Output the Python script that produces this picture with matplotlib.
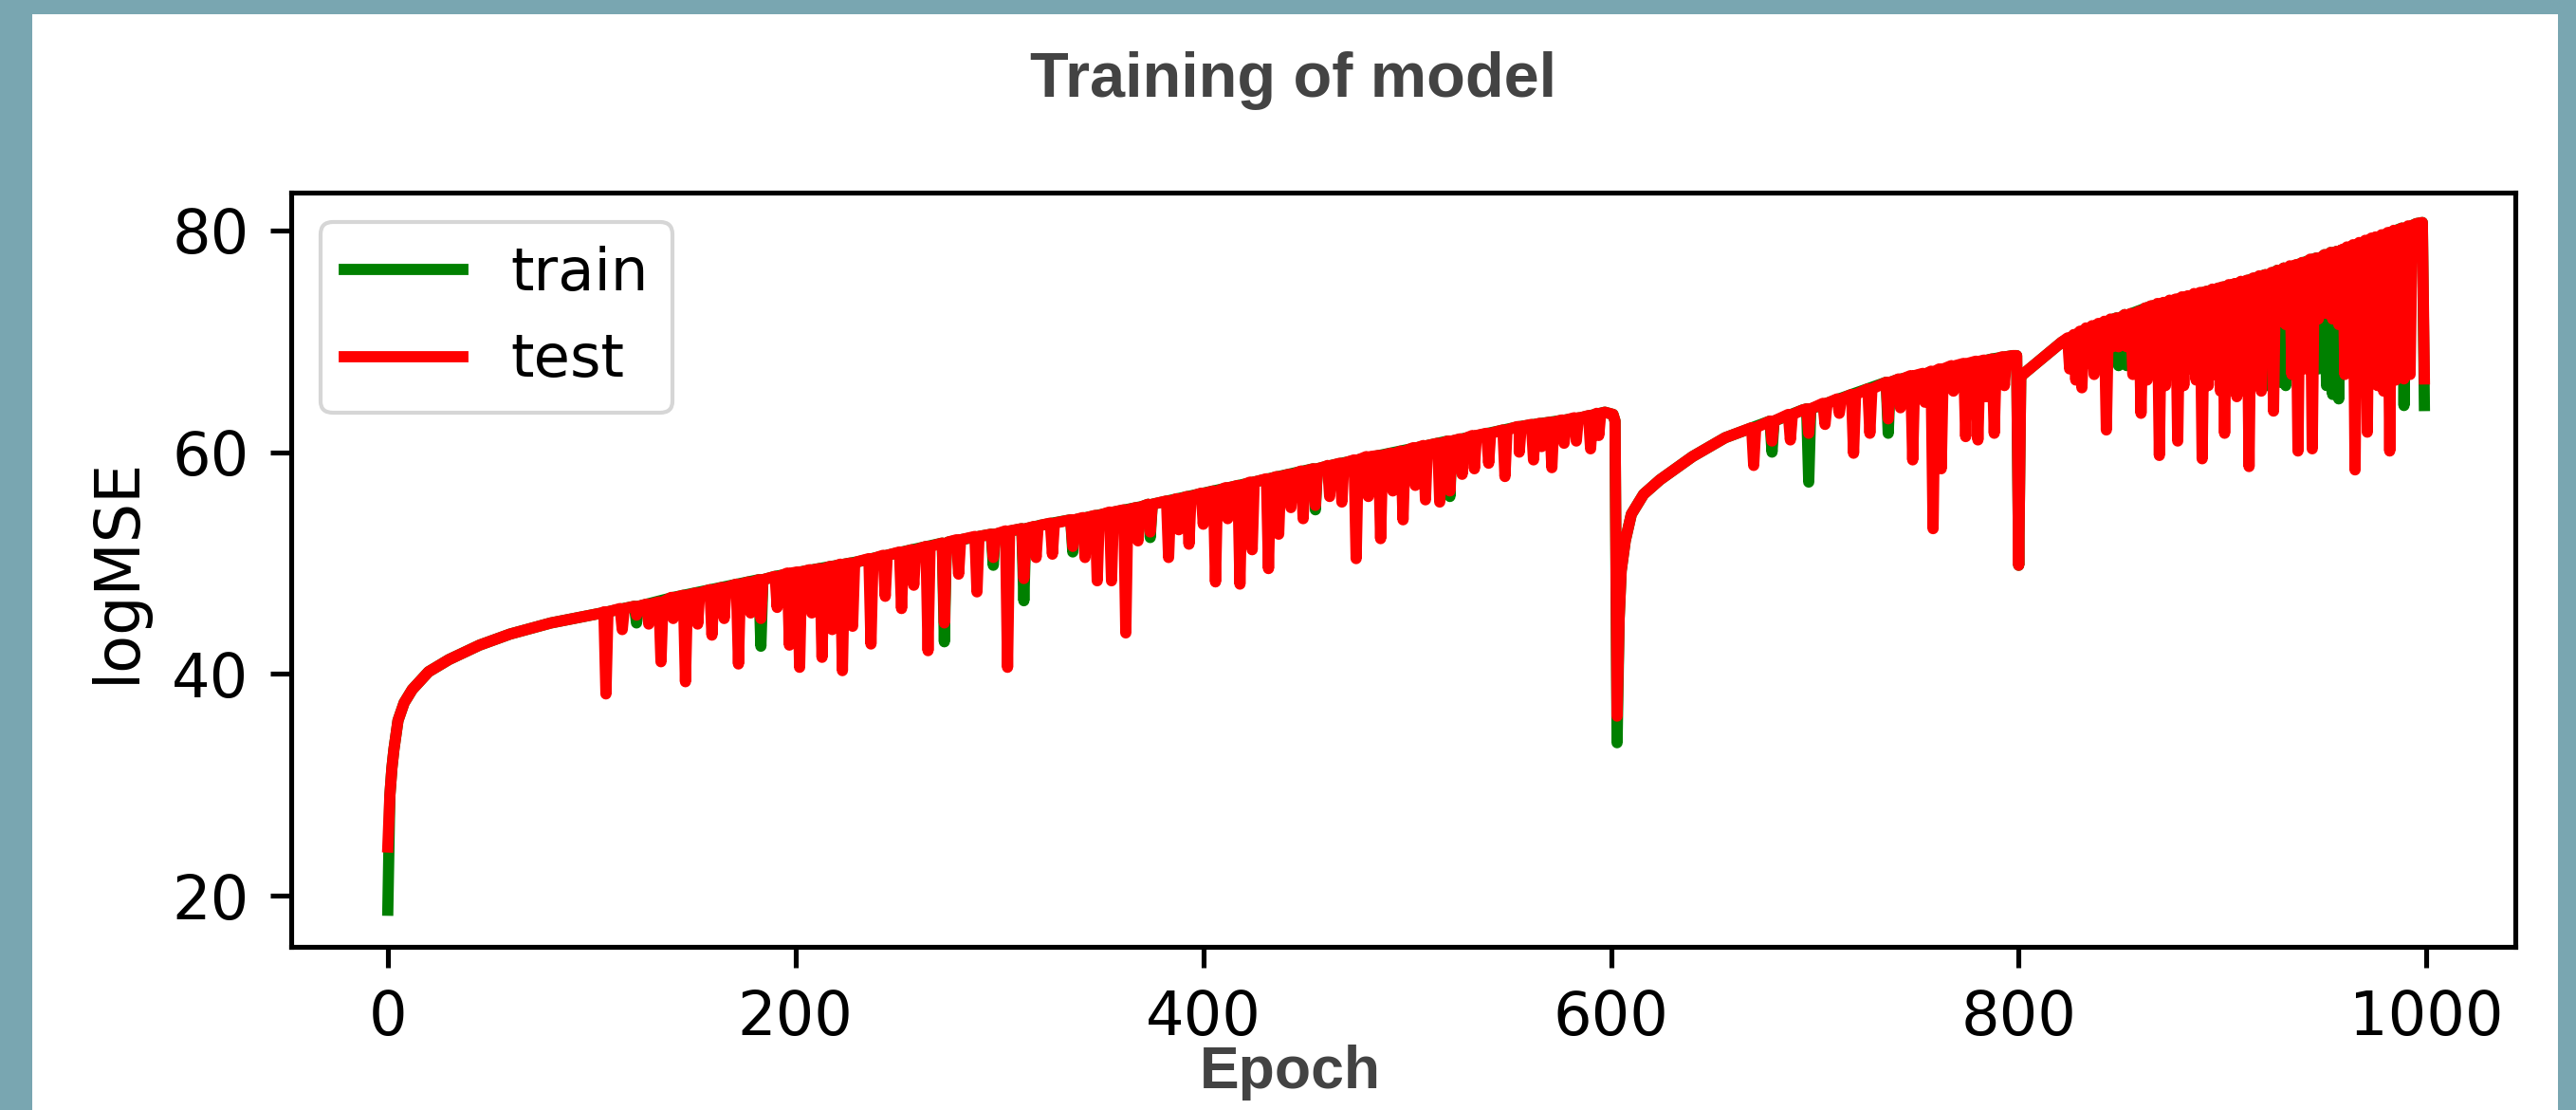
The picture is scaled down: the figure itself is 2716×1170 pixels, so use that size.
import numpy as np
import matplotlib.pyplot as plt
from matplotlib.patches import Rectangle

# upper envelope of the two curves (epoch, logMSE) incl. the big drops
env_epoch = [0, 1, 2, 3, 5, 8, 12, 20, 30, 45,
             60, 80, 105, 140, 190, 230, 275, 320, 370, 415,
             460, 510, 555, 585, 597, 601, 602, 603, 604, 605,
             607, 610, 616, 624, 640, 656, 694, 740, 787, 797,
             799, 800, 801, 802, 821, 833, 864, 911, 958, 995,
             998, 999]
test_env = [24.4, 29.0, 31.5, 33.2, 35.8, 37.4, 38.6, 40.2, 41.3, 42.6,
            43.6, 44.6, 45.5, 46.9, 48.8, 50.1, 51.9, 53.4, 55.1, 56.9,
            58.7, 60.6, 62.3, 63.1, 63.6, 63.4, 62.8, 36.2, 45.0, 49.3,
            52.0, 54.4, 56.2, 57.5, 59.6, 61.3, 63.8, 66.5, 68.4, 68.7,
            68.7, 49.8, 66.9, 67.0, 69.9, 71.1, 73.1, 75.4, 78.2, 80.6,
            80.7, 66.6]
train_env = [18.7, 29.0, 31.5, 33.2, 35.8, 37.4, 38.6, 40.2, 41.3, 42.6,
             43.6, 44.6, 45.5, 46.9, 48.8, 50.1, 51.9, 53.4, 55.1, 56.9,
             58.7, 60.6, 62.3, 63.1, 63.6, 63.4, 62.8, 33.8, 45.0, 49.3,
             52.0, 54.4, 56.2, 57.5, 59.6, 61.3, 63.8, 66.5, 68.4, 68.7,
             68.7, 49.8, 66.9, 67.0, 69.9, 71.1, 73.1, 75.4, 78.2, 80.6,
             80.7, 64.2]

# downward spikes of the test curve: epoch, value before/after, bottom value
test_spike_epoch = [107, 115, 122, 128, 134, 140, 146, 152, 159, 165,
                    172, 178, 183, 191, 197, 202, 208, 213, 218, 223,
                    228, 237, 244, 252, 258, 265, 273, 280, 289, 297,
                    304, 312, 318, 326, 336, 342, 348, 355, 362, 368,
                    374, 383, 388, 393, 400, 406, 412, 418, 424, 432,
                    437, 443, 449, 455, 462, 468, 475, 481, 487, 493,
                    498, 504, 509, 516, 521, 527, 533, 540, 548, 555,
                    562, 566, 571, 577, 583, 590, 594,
                    670, 679, 688, 697, 705, 712, 719, 727, 736, 742,
                    748, 754, 758, 762, 768, 774, 780, 784, 788, 793,
                    825, 828, 831, 834, 837, 840, 843, 846, 849, 853,
                    856, 860, 863, 866, 869, 872, 875, 878, 881, 884,
                    887, 890, 893, 896, 899, 901, 904, 907, 910, 913,
                    916, 919, 922, 925, 928, 931, 934, 937, 940, 944,
                    947, 951, 954, 957, 960, 962, 965, 968, 971, 974,
                    976, 979, 982, 985, 989, 992]
test_spike_top = [45.6, 45.9, 46.1, 46.3, 46.5, 46.9, 47.1, 47.3, 47.6, 47.8,
                  48.1, 48.3, 48.5, 48.8, 49.1, 49.2, 49.4, 49.5, 49.7, 49.9,
                  50.0, 50.4, 50.7, 51.0, 51.2, 51.5, 51.8, 52.1, 52.4, 52.6,
                  52.9, 53.1, 53.3, 53.6, 53.9, 54.1, 54.3, 54.6, 54.8, 55.0,
                  55.3, 55.6, 55.8, 56.0, 56.3, 56.5, 56.8, 57.0, 57.3, 57.6,
                  57.8, 58.0, 58.3, 58.5, 58.8, 59.0, 59.3, 59.6, 59.7, 59.9,
                  60.1, 60.4, 60.6, 60.8, 61.0, 61.2, 61.5, 61.7, 62.0, 62.3,
                  62.5, 62.6, 62.7, 62.9, 63.1, 63.3, 63.5,
                  62.2, 62.8, 63.4, 63.9, 64.4, 64.8, 65.2, 65.7, 66.3, 66.6,
                  66.9, 67.1, 67.3, 67.5, 67.8, 68.0, 68.2, 68.3, 68.4, 68.6,
                  70.3, 70.6, 70.9, 71.2, 71.4, 71.6, 71.8, 72.0, 72.1, 72.4,
                  72.5, 72.7, 73.0, 73.2, 73.4, 73.5, 73.7, 73.8, 74.0, 74.1,
                  74.3, 74.4, 74.5, 74.7, 74.8, 74.9, 75.1, 75.2, 75.4, 75.5,
                  75.7, 75.9, 76.0, 76.2, 76.4, 76.6, 76.8, 76.9, 77.1, 77.4,
                  77.5, 77.8, 78.0, 78.1, 78.3, 78.5, 78.7, 78.9, 79.1, 79.3,
                  79.4, 79.6, 79.8, 80.0, 80.2, 80.4]
test_spike_low = [38.2, 44.0, 45.3, 44.5, 41.1, 45.0, 39.3, 44.5, 43.5, 45.0,
                  40.9, 45.5, 45.0, 46.0, 42.6, 40.6, 45.5, 41.5, 44.0, 40.3,
                  44.3, 42.7, 47.0, 45.9, 48.0, 42.1, 44.6, 49.0, 47.4, 50.5,
                  40.6, 48.6, 50.5, 50.8, 51.5, 50.5, 48.4, 48.4, 43.7, 52.0,
                  52.8, 50.5, 53.0, 51.7, 53.5, 48.3, 54.0, 48.1, 51.2, 49.5,
                  52.6, 55.0, 54.0, 55.2, 56.0, 55.5, 50.4, 56.0, 52.2, 56.5,
                  53.9, 57.0, 55.7, 55.5, 56.5, 58.0, 58.5, 59.0, 57.8, 60.0,
                  59.3, 60.5, 58.6, 60.8, 61.0, 60.3, 61.5,
                  58.8, 61.0, 61.1, 61.7, 62.5, 63.5, 59.9, 61.7, 63.0, 64.0,
                  59.3, 64.5, 53.1, 58.5, 65.5, 61.4, 61.1, 65.0, 61.7, 66.0,
                  67.5, 66.5, 65.8, 68.0, 67.0, 68.5, 62.0, 69.5, 69.5, 69.5,
                  67.0, 63.5, 66.5, 67.5, 59.7, 66.0, 67.0, 61.0, 66.0, 67.5,
                  66.5, 59.4, 66.0, 67.0, 65.5, 61.7, 66.5, 65.0, 67.0, 58.7,
                  66.5, 65.5, 71.5, 63.7, 71.8, 71.5, 67.0, 60.1, 67.5, 60.3,
                  72.0, 72.5, 72.0, 71.5, 67.0, 72.0, 58.4, 66.0, 61.8, 67.0,
                  66.0, 65.5, 60.1, 66.5, 66.6, 67.0]

# spikes of the train curve that show below the red one
train_spike_epoch = [122, 183, 273, 297, 312, 336, 374, 455, 521, 679,
                     697, 736, 849, 853, 922, 928, 931, 947, 951, 954,
                     957, 989]
train_spike_top = [46.1, 48.5, 51.8, 52.6, 53.1, 53.9, 55.3, 58.5, 61.0, 62.8,
                   63.9, 66.3, 72.1, 72.4, 76.0, 76.4, 76.6, 77.5, 77.8, 78.0,
                   78.1, 80.2]
train_spike_low = [44.6, 42.5, 42.9, 49.8, 46.6, 51.0, 52.3, 54.8, 56.0, 60.0,
                   57.3, 61.7, 67.8, 67.8, 66.0, 66.3, 66.0, 67.5, 66.0, 65.2,
                   64.8, 64.2]


def build_curve(env_y, spk_e, spk_top, spk_low):
    xs = list(env_epoch)
    ys = list(env_y)
    for e, t, l in zip(spk_e, spk_top, spk_low):
        xs += [e - 1, e, e + 1]
        ys += [t, l, t]
    order = np.argsort(xs, kind='stable')
    return np.array(xs)[order], np.array(ys)[order]


train_x, train_y = build_curve(train_env, train_spike_epoch, train_spike_top, train_spike_low)
test_x, test_y = build_curve(test_env, test_spike_epoch, test_spike_top, test_spike_low)

W, H = 2716, 1170
fig = plt.figure(figsize=(W / 100, H / 100), dpi=100)
fig.patch.set_facecolor('#79a6b1')
fig.add_artist(Rectangle((34 / W, 0), (2697 - 34) / W, 1 - 15 / H,
                         transform=fig.transFigure, facecolor='white',
                         edgecolor='none', zorder=0))

ax = fig.add_axes([307 / W, 1 - 998 / H, 2345 / W, 795 / H])
ax.plot(train_x, train_y, color='green', lw=8.5, label='train')
ax.plot(test_x, test_y, color='red', lw=8.5, label='test')

ax.set_xlim(-47.4, 1043.6)
ax.set_ylim(15.4, 83.4)
ax.set_xticks([0, 200, 400, 600, 800, 1000])
ax.set_yticks([20, 40, 60, 80])
ax.tick_params(labelsize=46, length=16, width=3.7, pad=16)
for s in ax.spines.values():
    s.set_linewidth(3.7)
ax.set_ylabel('logMSE', fontsize=47, labelpad=18)

leg = ax.legend(loc='upper left', fontsize=45)
leg.get_frame().set_linewidth(3)

fig.text(0.502, 1 - 102 / H, 'Training of model', ha='center', va='baseline',
         fontsize=48, fontweight='bold', family='Liberation Sans', color='#434343')
fig.text(0.501, 1 - 1147 / H, 'Epoch', ha='center', va='baseline',
         fontsize=45, fontweight='bold', family='Liberation Sans', color='#434343')

fig.savefig('out.png', dpi=100, facecolor=fig.get_facecolor())
